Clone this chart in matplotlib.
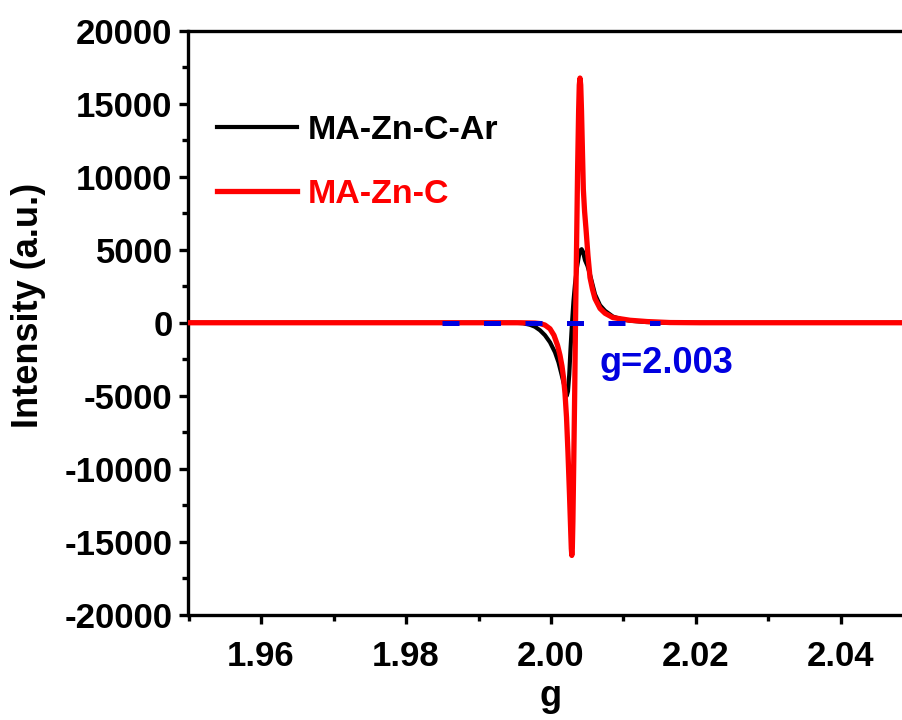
import matplotlib
matplotlib.use("Agg")
import matplotlib.pyplot as plt

plt.rcParams['font.family'] = ['Liberation Sans', 'DejaVu Sans']
plt.rcParams['font.weight'] = 'bold'
plt.rcParams['axes.unicode_minus'] = False
fontsize = 25

# MA-Zn-C-Ar (black)
g_ar = [1.950, 1.990, 1.99503, 1.99614, 1.99710, 1.99779, 1.99848, 1.99917, 1.99986,
        2.00055, 2.00103, 2.00138, 2.00172, 2.00200, 2.00217, 2.00234, 2.00252,
        2.00269, 2.00290, 2.00310, 2.00331, 2.00359, 2.00386, 2.00407, 2.00423,
        2.00441, 2.00469, 2.00503, 2.00538, 2.00607, 2.00676, 2.00745, 2.00855,
        2.00979, 2.01090, 2.01297, 2.01572, 2.050]
i_ar = [0, 0, 0, -34, -137, -274, -515, -858, -1338,
        -2024, -2710, -3396, -4082, -4631, -5009, -4700, -3533,
        -1818, 0, 1475, 2641, 3808, 4631, 4974, 5043,
        4871, 4288, 3900, 3300, 1950, 1200, 820, 420,
        230, 140, 55, 0, 0]

# MA-Zn-C (red)
g_c = [1.950, 1.99572, 1.99779, 1.99848, 1.99917, 1.99986, 2.00041, 2.00090, 2.00124,
       2.00152, 2.00172, 2.00193, 2.00214, 2.00234, 2.00255, 2.00272, 2.00280,
       2.00287, 2.00294, 2.00302, 2.00314, 2.00327, 2.00338, 2.00352, 2.00367,
       2.00381, 2.00390, 2.00400, 2.00410, 2.00421, 2.00433, 2.00446, 2.00463,
       2.00483, 2.00510, 2.00538, 2.00572, 2.00607, 2.00676, 2.00745, 2.00855,
       2.01090, 2.01324, 2.01641, 2.02055, 2.050]
i_c = [0, 0, -21, -55, -158, -412, -858, -1544, -2230,
       -2985, -3739, -4837, -6484, -8885, -11767, -14305, -15472,
       -15952, -15472, -13619, -9503, -4700, 0, 5043, 10532,
       14511, 16295, 16775, 16295, 14511, 11904, 9159, 7650,
       6415, 4600, 3100, 2300, 1650, 980, 650, 350,
       170, 82, 14, 0, 0]

g_mark = [1.985, 2.015]
i_mark = [0, 0]

fig = plt.figure(figsize=(9.03, 7.2), dpi=100)
ax = fig.add_axes([188.5 / 903, 105.5 / 720, 725 / 903, 583.5 / 720])

ax.plot(g_ar, i_ar, color="black", lw=3.0, label="MA-Zn-C-Ar", zorder=3,
        solid_joinstyle="round")
ax.plot(g_c, i_c, color="#ff0000", lw=3.8, label="MA-Zn-C", zorder=4,
        solid_joinstyle="round")
ax.plot(g_mark, i_mark, color="#0000e0", lw=3.6, dashes=(3.4, 4.9), zorder=5)
ax.text(2.00665, -3465, "g=2.003", color="#0000e0", fontsize=26,
        fontweight="bold", va="baseline", ha="left")

ax.set_xlim(1.95, 2.05)
ax.set_ylim(-20000, 20000)
ax.set_xticks([1.96, 1.98, 2.00, 2.02, 2.04])
ax.set_xticks([1.95, 1.97, 1.99, 2.01, 2.03, 2.05], minor=True)
ax.set_yticks(range(-20000, 20001, 5000))
ax.set_yticks(range(-17500, 20000, 5000), minor=True)
ax.set_xticklabels(["1.96", "1.98", "2.00", "2.02", "2.04"])
ax.tick_params(which="major", direction="out", length=6.5, width=2.4,
               labelsize=fontsize, pad=5)
ax.tick_params(axis="x", which="major", pad=12)
ax.tick_params(which="minor", direction="out", length=4, width=2.4)
for s in ax.spines.values():
    s.set_linewidth(2.4)

ax.set_xlabel("g", fontsize=26, fontweight="bold", labelpad=4)
ax.set_ylabel("Intensity (a.u.)", fontsize=26, fontweight="bold")
ax.yaxis.set_label_coords(-0.197, 0.529)

ax.legend(loc="upper left", bbox_to_anchor=(0.04, 0.856), frameon=False,
          fontsize=24.5, handlelength=2.35, handletextpad=0.3,
          labelspacing=0.98, labelcolor="linecolor", borderaxespad=0,
          borderpad=0)

fig.savefig("out.png", dpi=100)
